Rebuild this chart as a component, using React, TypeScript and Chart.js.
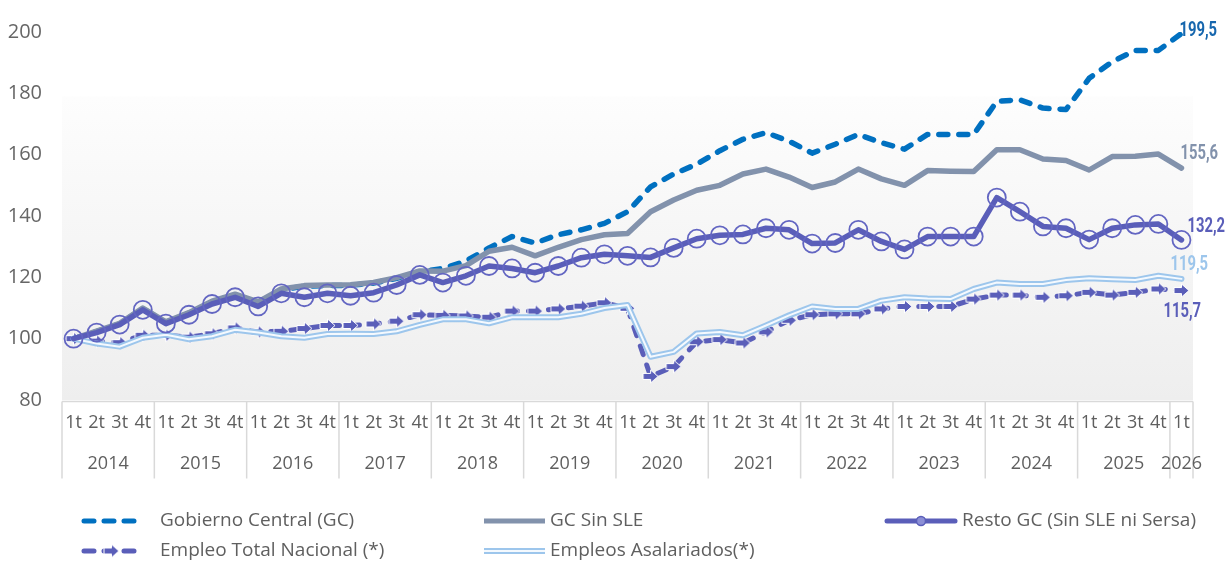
import React, { useEffect, useRef } from 'react';
import { Chart, registerables } from 'chart.js';

Chart.register(...registerables);

// ---------- DATA ----------
const years = ['2014', '2015', '2016', '2017', '2018', '2019', '2020', '2021', '2022', '2023', '2024', '2025', '2026'];
const quarters = ['1t', '2t', '3t', '4t'];

const gobiernoCentral = [
  100.0, 102.3, 104.8, 109.8, 105.3, 108.3, 112.0, 114.3, 111.8, 116.0, 117.1, 117.3,
  117.4, 118.1, 119.7, 121.8, 122.9, 125.3, 129.6, 133.3, 131.2, 133.9, 135.5, 137.6,
  141.4, 149.5, 153.7, 156.9, 161.3, 165.0, 167.2, 164.4, 160.5, 163.4, 166.6, 163.9,
  161.8, 166.6, 166.6, 166.6, 177.4, 177.9, 175.2, 174.7, 184.9, 190.3, 194.0, 194.0,
  199.5,
];
const gcSinSLE = [
  100.0, 102.5, 105.0, 110.0, 105.5, 108.5, 112.2, 114.5, 112.0, 116.2, 117.3, 117.5,
  117.6, 118.3, 119.9, 122.1, 122.0, 123.8, 128.5, 129.8, 127.0, 129.8, 132.3, 133.9,
  134.3, 141.4, 145.2, 148.4, 150.0, 153.7, 155.3, 152.7, 149.3, 151.1, 155.3, 152.1,
  150.0, 154.8, 154.6, 154.5, 161.6, 161.6, 158.6, 158.1, 155.0, 159.4, 159.5, 160.2,
  155.6,
];
const restoGC = [
  100.0, 102.0, 104.6, 109.4, 104.9, 107.8, 111.3, 113.5, 110.5, 114.8, 113.5, 114.8,
  114.0, 115.0, 117.5, 120.8, 118.3, 120.5, 123.7, 122.9, 121.5, 123.7, 126.4, 127.5,
  127.0, 126.5, 129.6, 132.6, 133.7, 134.0, 136.0, 135.5, 131.0, 131.2, 135.5, 131.7,
  129.1, 133.3, 133.3, 133.3, 146.0, 141.4, 136.6, 136.0, 132.3, 136.0, 137.1, 137.4,
  132.2,
];
const empleoTotal = [
  100.0, 99.2, 98.7, 101.1, 101.1, 100.5, 101.6, 103.5, 102.2, 102.4, 103.3, 104.3,
  104.3, 104.8, 105.7, 107.8, 107.6, 107.4, 107.0, 109.0, 109.0, 109.7, 110.6, 111.7,
  109.9, 87.7, 90.9, 99.0, 99.7, 98.6, 102.2, 106.0, 107.8, 108.1, 108.1, 109.7,
  110.5, 110.5, 110.5, 112.9, 114.2, 114.2, 113.5, 114.0, 115.1, 114.2, 115.1, 116.2,
  115.7,
];
const empleosAsalariados = [
  100.0, 98.4, 97.4, 100.3, 101.3, 99.8, 100.8, 102.9, 102.0, 100.8, 100.3, 101.5,
  101.6, 101.5, 102.4, 104.5, 106.3, 106.3, 105.0, 107.0, 107.0, 107.0, 108.1, 110.0,
  111.0, 94.1, 95.7, 101.7, 102.2, 101.1, 104.3, 107.6, 110.5, 109.7, 109.7, 112.4,
  113.5, 113.1, 112.9, 116.2, 118.3, 117.8, 117.8, 119.1, 119.7, 119.4, 119.1, 120.5,
  119.5,
];
const yTicks = [80, 100, 120, 140, 160, 180, 200];
const seriesNames = [
  'Gobierno Central (GC)',
  'GC Sin SLE',
  'Resto GC (Sin SLE ni Sersa)',
  'Empleo Total Nacional (*)',
  'Empleos Asalariados(*)',
];

// ---------- derived ----------
const N = gobiernoCentral.length;
const categories: string[] = [];
const yearGroups: { year: string; first: number; last: number }[] = [];
years.forEach((yr) => {
  const first = categories.length;
  quarters.forEach((q) => {
    if (categories.length < N) categories.push(q);
  });
  yearGroups.push({ year: yr, first, last: categories.length - 1 });
});

const C_GC = '#0070C0';
const C_GRAY = '#8292AC';
const C_PURPLE = '#5A5EB9';
const C_LBLUE = '#9DC6EC';
const TXT = '#5f5f5f';
const FONT = "'Open Sans', 'Noto Sans', sans-serif";

function makeArrow(): HTMLCanvasElement {
  const c = document.createElement('canvas');
  c.width = 17;
  c.height = 15;
  const g = c.getContext('2d')!;
  g.beginPath();
  g.moveTo(1, 4.5);
  g.lineTo(8.5, 4.5);
  g.lineTo(8.5, 1);
  g.lineTo(16, 7.5);
  g.lineTo(8.5, 14);
  g.lineTo(8.5, 10.5);
  g.lineTo(1, 10.5);
  g.closePath();
  g.fillStyle = C_PURPLE;
  g.fill();
  g.strokeStyle = '#ffffff';
  g.lineWidth = 1;
  g.stroke();
  return c;
}

export default function App() {
  const ref = useRef<HTMLCanvasElement | null>(null);

  useEffect(() => {
    document.body.style.margin = '0';
    const canvas = ref.current;
    if (!canvas) return;
    const arrow = makeArrow();
    const fmt = (v: number) => v.toFixed(1).replace('.', ',');

    const decor = {
      id: 'decor',
      beforeDatasetsDraw(chart: any) {
        const { ctx, scales } = chart;
        const x = scales.x;
        const y = scales.y;
        const step = x.getPixelForValue(1) - x.getPixelForValue(0);
        const left = x.getPixelForValue(0) - step / 2;
        const right = x.getPixelForValue(N - 1) + step / 2;
        const top = y.getPixelForValue(179);
        const bottom = y.getPixelForValue(80);
        ctx.save();
        const grad = ctx.createLinearGradient(0, top, 0, bottom);
        grad.addColorStop(0, '#fdfdfd');
        grad.addColorStop(1, '#eeeeee');
        ctx.fillStyle = grad;
        ctx.fillRect(left, top, right - left, bottom - top);
        ctx.restore();
      },
      afterDraw(chart: any) {
        const { ctx, scales } = chart;
        const x = scales.x;
        const y = scales.y;
        const step = x.getPixelForValue(1) - x.getPixelForValue(0);
        const left = x.getPixelForValue(0) - step / 2;
        const right = x.getPixelForValue(N - 1) + step / 2;
        const axisY = y.getPixelForValue(80) + 1.5;
        ctx.save();
        // axis line and year separators
        ctx.strokeStyle = '#d9d9d9';
        ctx.lineWidth = 1.5;
        ctx.beginPath();
        ctx.moveTo(left, axisY);
        ctx.lineTo(right, axisY);
        const sepBottom = axisY + 77;
        yearGroups.forEach((g) => {
          const sx = x.getPixelForValue(g.first) - step / 2;
          ctx.moveTo(sx, axisY);
          ctx.lineTo(sx, sepBottom);
        });
        ctx.moveTo(right, axisY);
        ctx.lineTo(right, sepBottom);
        ctx.stroke();

        // year labels
        ctx.fillStyle = TXT;
        ctx.font = `18px ${FONT}`;
        ctx.textAlign = 'center';
        ctx.textBaseline = 'middle';
        yearGroups.forEach((g) => {
          const cx = (x.getPixelForValue(g.first) + x.getPixelForValue(g.last)) / 2;
          ctx.fillText(g.year, cx, axisY + 62);
        });

        // end labels
        const endSpecs = [
          { vals: gobiernoCentral, color: '#1767AE', dx: -2, dy: -3 },
          { vals: gcSinSLE, color: C_GRAY, dx: -1, dy: -14 },
          { vals: restoGC, color: C_PURPLE, dx: 6, dy: -13 },
          { vals: empleosAsalariados, color: C_LBLUE, dx: -11, dy: -14 },
          { vals: empleoTotal, color: C_PURPLE, dx: -18, dy: 21 },
        ];
        endSpecs.forEach((s) => {
          const v = s.vals[N - 1];
          const px = x.getPixelForValue(N - 1) + s.dx;
          const py = y.getPixelForValue(v) + s.dy;
          ctx.save();
          ctx.translate(px, py);
          ctx.scale(0.74, 1);
          ctx.font = `bold 20px Roboto, 'DejaVu Sans', sans-serif`;
          ctx.fillStyle = s.color;
          ctx.textAlign = 'left';
          ctx.textBaseline = 'middle';
          ctx.fillText(fmt(v), 0, 0);
          ctx.restore();
        });

        // legend
        const r1 = 521;
        const r2 = 551;
        ctx.lineCap = 'round';
        // GC dashed
        ctx.strokeStyle = C_GC;
        ctx.lineWidth = 5;
        ctx.setLineDash([10, 10]);
        ctx.beginPath();
        ctx.moveTo(84, r1);
        ctx.lineTo(140, r1);
        ctx.stroke();
        // Empleo total dashed + arrow
        ctx.strokeStyle = C_PURPLE;
        ctx.beginPath();
        ctx.moveTo(84, r2);
        ctx.lineTo(140, r2);
        ctx.stroke();
        ctx.setLineDash([]);
        ctx.drawImage(arrow, 103, r2 - 7.5);
        // GC sin SLE solid
        ctx.strokeStyle = C_GRAY;
        ctx.lineWidth = 5;
        ctx.lineCap = 'butt';
        ctx.beginPath();
        ctx.moveTo(484, r1);
        ctx.lineTo(545, r1);
        ctx.stroke();
        // Asalariados double
        ctx.strokeStyle = C_LBLUE;
        ctx.lineWidth = 6;
        ctx.beginPath();
        ctx.moveTo(484, r2);
        ctx.lineTo(545, r2);
        ctx.stroke();
        ctx.strokeStyle = '#f4f9fe';
        ctx.lineWidth = 2;
        ctx.beginPath();
        ctx.moveTo(484, r2);
        ctx.lineTo(545, r2);
        ctx.stroke();
        // Resto line + circle
        ctx.strokeStyle = C_PURPLE;
        ctx.lineWidth = 5;
        ctx.lineCap = 'round';
        ctx.beginPath();
        ctx.moveTo(887, r1);
        ctx.lineTo(955, r1);
        ctx.stroke();
        ctx.beginPath();
        ctx.arc(921, r1, 4.5, 0, Math.PI * 2);
        ctx.fillStyle = '#8c8fd6';
        ctx.fill();
        ctx.lineWidth = 1.5;
        ctx.strokeStyle = C_PURPLE;
        ctx.stroke();

        ctx.fillStyle = TXT;
        ctx.font = `19px ${FONT}`;
        ctx.textAlign = 'left';
        ctx.textBaseline = 'middle';
        ctx.fillText(seriesNames[0], 160, r1);
        ctx.fillText(seriesNames[1], 550, r1);
        ctx.fillText(seriesNames[2], 962, r1);
        ctx.fillText(seriesNames[3], 160, r2);
        ctx.fillText(seriesNames[4], 550, r2);
        ctx.restore();
      },
    };

    const lineBase = {
      tension: 0,
      borderCapStyle: 'round' as const,
      borderJoinStyle: 'round' as const,
      fill: false,
    };

    const chart = new Chart(canvas, {
      type: 'line',
      data: {
        labels: categories,
        datasets: [
          {
            ...lineBase,
            label: seriesNames[0],
            data: gobiernoCentral,
            borderColor: C_GC,
            borderWidth: 5.5,
            borderDash: [9, 11],
            pointRadius: 0,
            order: 5,
          },
          {
            ...lineBase,
            label: seriesNames[1],
            data: gcSinSLE,
            borderColor: C_GRAY,
            borderWidth: 5.5,
            pointRadius: 0,
            order: 4,
          },
          {
            ...lineBase,
            label: seriesNames[2],
            data: restoGC,
            borderColor: C_PURPLE,
            borderWidth: 5.5,
            pointRadius: 9,
            pointBorderWidth: 1.8,
            pointBorderColor: '#6366c2',
            pointBackgroundColor: 'rgba(0,0,0,0)',
            order: 0,
          },
          {
            ...lineBase,
            label: seriesNames[3],
            data: empleoTotal,
            borderColor: C_PURPLE,
            borderWidth: 5,
            borderDash: [9, 11],
            pointStyle: arrow,
            pointRadius: 7,
            order: 3,
          },
          {
            ...lineBase,
            label: seriesNames[4],
            data: empleosAsalariados,
            borderColor: C_LBLUE,
            borderWidth: 6,
            pointRadius: 0,
            order: 2,
          },
          {
            ...lineBase,
            label: seriesNames[4] + ' inner',
            data: empleosAsalariados,
            borderColor: '#f4f9fe',
            borderWidth: 2,
            pointRadius: 0,
            order: 1,
          },
        ],
      },
      options: {
        animation: false,
        responsive: true,
        maintainAspectRatio: false,
        layout: { padding: { top: 25, right: 34, left: 0, bottom: 0 } },
        plugins: {
          legend: { display: false },
          tooltip: { enabled: false },
        },
        scales: {
          x: {
            type: 'category',
            offset: true,
            grid: { display: false, drawTicks: false },
            border: { display: false },
            ticks: {
              autoSkip: false,
              maxRotation: 0,
              minRotation: 0,
              padding: 12,
              color: TXT,
              font: { family: FONT, size: 18 },
            },
            afterFit: (s: any) => {
              s.height = 162;
            },
          },
          y: {
            min: 80,
            max: 200,
            grid: { display: false, drawTicks: false },
            border: { display: false },
            ticks: {
              padding: 20,
              color: '#666666',
              font: { family: FONT, size: 20 },
            },
            afterBuildTicks: (s: any) => {
              s.ticks = yTicks.map((v) => ({ value: v }));
            },
            afterFit: (s: any) => {
              s.width = 62;
            },
          },
        },
      },
      plugins: [decor],
    });

    return () => chart.destroy();
  }, []);

  return (
    <div style={{ position: 'relative', width: '1227px', height: '562px' }}>
      <canvas ref={ref} />
    </div>
  );
}
